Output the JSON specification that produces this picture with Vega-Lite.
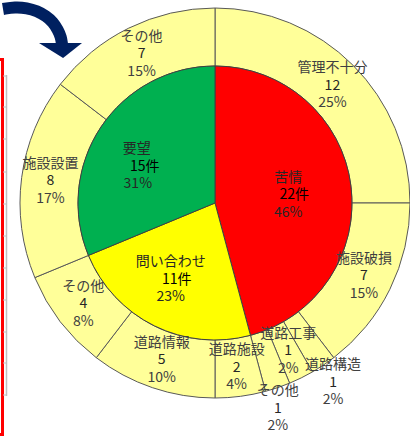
{
  "$schema": "https://vega.github.io/schema/vega-lite/v6.json",
  "width": 390,
  "height": 406,
  "autosize": {"type": "none"},
  "padding": {"left": 20, "top": 0, "right": 0, "bottom": 35},
  "background": "white",
  "config": {"view": {"stroke": null}, "text": {"font": "Noto Sans CJK JP", "fontSize": 14}},
  "datasets": {
    "inner": [
      {"o": 1, "name": "苦情", "n": 22, "cnt": "22件", "pct": "46%"},
      {"o": 2, "name": "問い合わせ", "n": 11, "cnt": "11件", "pct": "23%"},
      {"o": 3, "name": "要望", "n": 15, "cnt": "15件", "pct": "31%"}
    ],
    "outer": [
      {"o": 1, "name": "管理不十分", "n": 12, "cnt": "12", "pct": "25%"},
      {"o": 2, "name": "施設破損", "n": 7, "cnt": "7", "pct": "15%"},
      {"o": 3, "name": "道路工事", "n": 1, "cnt": "1", "pct": "2%"},
      {"o": 4, "name": "道路構造", "n": 1, "cnt": "1", "pct": "2%"},
      {"o": 5, "name": "その他", "n": 1, "cnt": "1", "pct": "2%"},
      {"o": 6, "name": "道路施設", "n": 2, "cnt": "2", "pct": "4%"},
      {"o": 7, "name": "道路情報", "n": 5, "cnt": "5", "pct": "10%"},
      {"o": 8, "name": "その他", "n": 4, "cnt": "4", "pct": "8%"},
      {"o": 9, "name": "施設設置", "n": 8, "cnt": "8", "pct": "17%"},
      {"o": 10, "name": "その他", "n": 7, "cnt": "7", "pct": "15%"}
    ],
    "frame": [{"x": -20, "x2": 2.5, "y": 59.5, "y2": 434.5}],
    "edge": [{"x": 6.5, "y": 75, "y2": 396}],
    "ticks": [
      {"x": 3, "x2": 7, "y": 76}, {"x": 3, "x2": 7, "y": 107}, {"x": 3, "x2": 7, "y": 139},
      {"x": 3, "x2": 7, "y": 172}, {"x": 3, "x2": 7, "y": 204}, {"x": 3, "x2": 7, "y": 236},
      {"x": 3, "x2": 7, "y": 268}, {"x": 3, "x2": 7, "y": 300}, {"x": 3, "x2": 7, "y": 332},
      {"x": 3, "x2": 7, "y": 363}, {"x": 3, "x2": 7, "y": 395}
    ],
    "arrow": [
      {"i": 1, "x": 3, "y": 9}, {"i": 2, "x": 15, "y": 7}, {"i": 3, "x": 27, "y": 8},
      {"i": 4, "x": 37, "y": 11}, {"i": 5, "x": 46, "y": 16}, {"i": 6, "x": 53, "y": 22},
      {"i": 7, "x": 58, "y": 30}, {"i": 8, "x": 61, "y": 37}, {"i": 9, "x": 62, "y": 44}
    ],
    "head": [{"x": 60.5, "y": 50.5}]
  },
  "layer": [
    {
      "data": {"name": "frame"},
      "mark": {"type": "rect", "filled": false, "stroke": "#FF0000", "strokeWidth": 3},
      "encoding": {
        "x": {"field": "x", "type": "quantitative", "scale": {"domain": [20, 410], "nice": false, "zero": false}, "axis": null},
        "x2": {"field": "x2"},
        "y": {"field": "y", "type": "quantitative", "scale": {"domain": [0, 406], "reverse": true, "nice": false, "zero": false}, "axis": null},
        "y2": {"field": "y2"}
      }
    },
    {
      "data": {"name": "edge"},
      "mark": {"type": "rule", "color": "#BFBFBF", "strokeWidth": 1.5},
      "encoding": {
        "x": {"field": "x", "type": "quantitative", "axis": null},
        "y": {"field": "y", "type": "quantitative", "axis": null},
        "y2": {"field": "y2"}
      }
    },
    {
      "data": {"name": "ticks"},
      "mark": {"type": "rule", "color": "#BFBFBF", "strokeWidth": 1},
      "encoding": {
        "x": {"field": "x", "type": "quantitative", "axis": null},
        "x2": {"field": "x2"},
        "y": {"field": "y", "type": "quantitative", "axis": null}
      }
    },
    {
      "data": {"name": "arrow"},
      "mark": {"type": "line", "color": "#002060", "strokeWidth": 12, "interpolate": "basis", "strokeCap": "butt"},
      "encoding": {
        "x": {"field": "x", "type": "quantitative", "axis": null},
        "y": {"field": "y", "type": "quantitative", "axis": null},
        "order": {"field": "i", "type": "quantitative"}
      }
    },
    {
      "data": {"name": "head"},
      "mark": {"type": "point", "filled": true, "opacity": 1, "color": "#002060", "size": 1849, "shape": "M-1,-0.35L1,-0.35L0.12,0.35Z"},
      "encoding": {
        "x": {"field": "x", "type": "quantitative", "axis": null},
        "y": {"field": "y", "type": "quantitative", "axis": null}
      }
    },
    {
      "data": {"name": "outer"},
      "mark": {"type": "arc", "radius": 195, "radius2": 137, "fill": "#FFFF99", "stroke": "#595959", "strokeWidth": 1},
      "encoding": {
        "theta": {"field": "n", "type": "quantitative", "stack": true},
        "order": {"field": "o", "type": "quantitative"}
      }
    },
    {
      "data": {"name": "inner"},
      "mark": {"type": "arc", "radius": 137, "stroke": "#404040", "strokeWidth": 1},
      "encoding": {
        "theta": {"field": "n", "type": "quantitative", "stack": true},
        "order": {"field": "o", "type": "quantitative"},
        "color": {"field": "name", "type": "nominal", "scale": {"domain": ["苦情", "問い合わせ", "要望"], "range": ["#FF0000", "#FFFF00", "#00B050"]}, "legend": null}
      }
    },
    {
      "data": {"name": "inner"},
      "encoding": {
        "theta": {"field": "n", "type": "quantitative", "stack": true},
        "order": {"field": "o", "type": "quantitative"}
      },
      "layer": [
        {"mark": {"type": "text", "radius": 82, "dx": -8, "dy": -14.5, "color": "#262626"}, "encoding": {"text": {"condition": {"test": "datum.name != '要望'", "field": "name"}, "value": ""}}},
        {"mark": {"type": "text", "radius": 82, "dx": -2, "dy": 3, "color": "#000000"}, "encoding": {"text": {"condition": {"test": "datum.name != '要望'", "field": "cnt"}, "value": ""}}},
        {"mark": {"type": "text", "radius": 82, "dx": -8, "dy": 20.5, "color": "#262626"}, "encoding": {"text": {"condition": {"test": "datum.name != '要望'", "field": "pct"}, "value": ""}}},
        {"mark": {"type": "text", "radius": 82, "dx": -10, "dy": -8, "color": "#262626"}, "encoding": {"text": {"condition": {"test": "datum.name == '要望'", "field": "name"}, "value": ""}}},
        {"mark": {"type": "text", "radius": 82, "dx": -2, "dy": 10, "color": "#000000"}, "encoding": {"text": {"condition": {"test": "datum.name == '要望'", "field": "cnt"}, "value": ""}}},
        {"mark": {"type": "text", "radius": 82, "dx": -9, "dy": 27, "color": "#262626"}, "encoding": {"text": {"condition": {"test": "datum.name == '要望'", "field": "pct"}, "value": ""}}}
      ]
    },
    {
      "data": {"name": "outer"},
      "encoding": {
        "theta": {"field": "n", "type": "quantitative", "stack": true},
        "order": {"field": "o", "type": "quantitative"}
      },
      "layer": [
        {"mark": {"type": "text", "radius": 166, "dy": -17.5, "color": "#404040"}, "encoding": {"text": {"condition": {"test": "datum.n > 1", "field": "name"}, "value": ""}}},
        {"mark": {"type": "text", "radius": 166, "dy": 0, "color": "#262626"}, "encoding": {"text": {"condition": {"test": "datum.n > 1", "field": "cnt"}, "value": ""}}},
        {"mark": {"type": "text", "radius": 166, "dy": 17.5, "color": "#404040"}, "encoding": {"text": {"condition": {"test": "datum.n > 1", "field": "pct"}, "value": ""}}},
        {"mark": {"type": "text", "radius": 166, "dx": -19, "dy": -7.5, "color": "#404040"}, "encoding": {"text": {"condition": {"test": "datum.name == '道路工事'", "field": "name"}, "value": ""}}},
        {"mark": {"type": "text", "radius": 166, "dx": -19, "dy": 10, "color": "#262626"}, "encoding": {"text": {"condition": {"test": "datum.name == '道路工事'", "field": "cnt"}, "value": ""}}},
        {"mark": {"type": "text", "radius": 166, "dx": -19, "dy": 27.5, "color": "#404040"}, "encoding": {"text": {"condition": {"test": "datum.name == '道路工事'", "field": "pct"}, "value": ""}}},
        {"mark": {"type": "text", "radius": 215, "dx": 23, "dy": -30.5, "color": "#404040"}, "encoding": {"text": {"condition": {"test": "datum.name == '道路構造'", "field": "name"}, "value": ""}}},
        {"mark": {"type": "text", "radius": 215, "dx": 23, "dy": -13, "color": "#262626"}, "encoding": {"text": {"condition": {"test": "datum.name == '道路構造'", "field": "cnt"}, "value": ""}}},
        {"mark": {"type": "text", "radius": 215, "dx": 23, "dy": 4.5, "color": "#404040"}, "encoding": {"text": {"condition": {"test": "datum.name == '道路構造'", "field": "pct"}, "value": ""}}},
        {"mark": {"type": "text", "radius": 214, "dx": -6, "dy": -14.5, "color": "#404040"}, "encoding": {"text": {"condition": {"test": "datum.name == 'その他' && datum.n == 1", "field": "name"}, "value": ""}}},
        {"mark": {"type": "text", "radius": 214, "dx": -6, "dy": 3, "color": "#262626"}, "encoding": {"text": {"condition": {"test": "datum.name == 'その他' && datum.n == 1", "field": "cnt"}, "value": ""}}},
        {"mark": {"type": "text", "radius": 214, "dx": -6, "dy": 20.5, "color": "#404040"}, "encoding": {"text": {"condition": {"test": "datum.name == 'その他' && datum.n == 1", "field": "pct"}, "value": ""}}}
      ]
    }
  ]
}
